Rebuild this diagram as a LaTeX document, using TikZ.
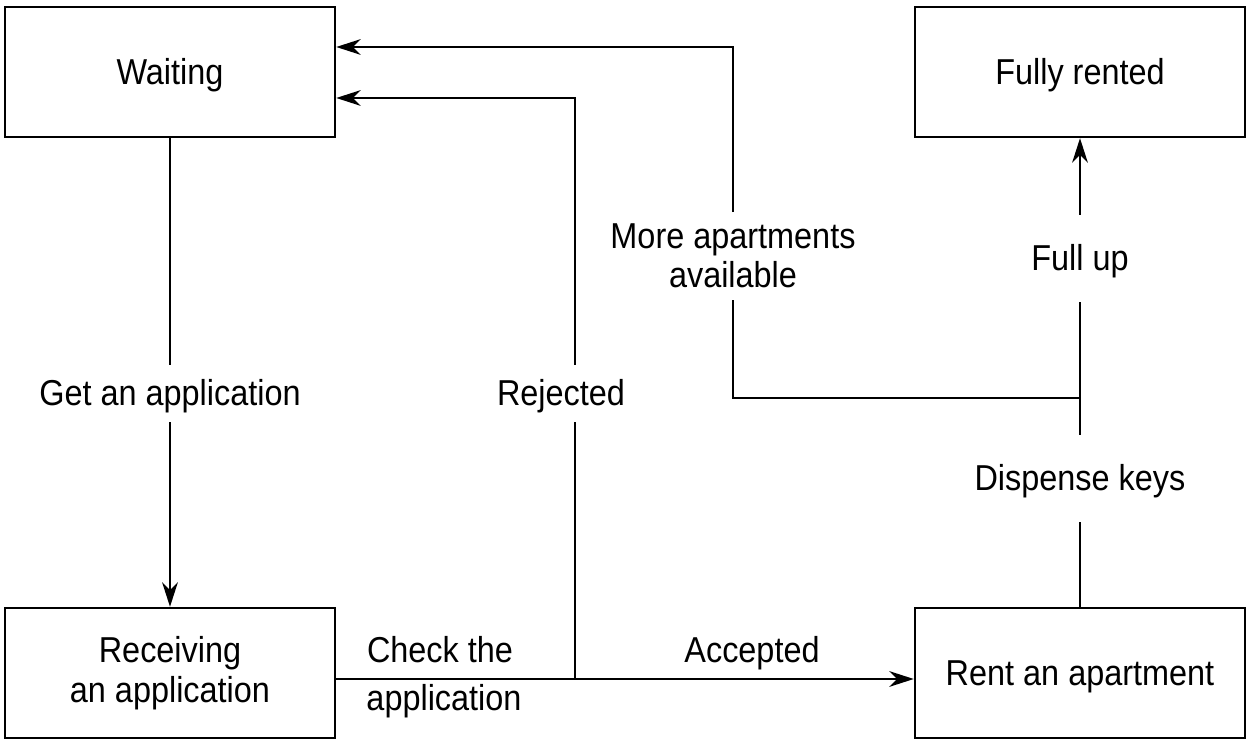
\documentclass[tikz,border=0pt]{standalone}
\usepackage{fontspec}
\setmainfont{Liberation Sans}[FakeStretch=0.9]
\usetikzlibrary{arrows.meta}

\begin{document}
\begin{tikzpicture}[
    font=\fontsize{20.5pt}{22.5pt}\selectfont,
    state/.style={draw, line width=1.4pt, minimum width=6.6cm, minimum height=2.6cm, inner sep=0pt},
    mid/.style={text height=19pt, text depth=5pt},
    tag/.style={inner sep=0pt, minimum height=1.14cm},
    tall/.style={minimum height=1.74cm},
    link/.style={line width=1.1pt},
    arr/.style={link, -{Stealth[length=14pt,width=9pt,inset=4.5pt]}}
  ]
   \useasboundingbox (0,0) rectangle (25.02,14.86);

   % states
   \node[state, mid] (wait) at (3.4,13.42) {Waiting};
   \node[state, mid] (full) at (21.6,13.42) {Fully rented};
   \node[state, align=center] (recv) at (3.4,1.4) {Receiving\\an application};
   \node[state, mid] (rent) at (21.6,1.4) {Rent an apartment};

   % events on the lines
   \node[tag, mid] (getapp) at (3.4,6.99) {Get an application};
   \node[tag, mid] (reject) at (11.22,6.99) {Rejected};
   \node[tag, tall, mid] (keys) at (21.6,5.29) {Dispense keys};
   \node[tag, tall, mid] (fullup) at (21.6,9.69) {Full up};
   \node[tag, tall, align=center] (more) at (14.66,9.74) {More apartments\\available};
   \node (check) at (8.8,1.86) {Check the};
   \node (appl) at (8.88,0.84) {application};
   \node (accept) at (15.04,1.8) {Accepted};

   \coordinate (fork) at (11.5,1.28);
   \coordinate (split) at (21.6,6.9);
   \coordinate (rejin) at ([yshift=-0.52cm]wait.east);
   \coordinate (morein) at ([yshift=0.5cm]wait.east);

   % transitions
   \draw[link] (wait) -- (getapp);
   \draw[arr] (getapp) -- (recv);
   \draw[arr] (fork -| recv.east) -- (fork -| rent.west);
   \draw[link] (fork) -- (fork |- reject.south);
   \draw[arr] (fork |- reject.north) |- (rejin);
   \draw[link] (rent) -- (keys);
   \draw[link] (keys) -- (fullup);
   \draw[arr] (fullup) -- (full);
   \draw[link] (split) -| (more);
   \draw[arr] (more) |- (morein);
\end{tikzpicture}
\end{document}
